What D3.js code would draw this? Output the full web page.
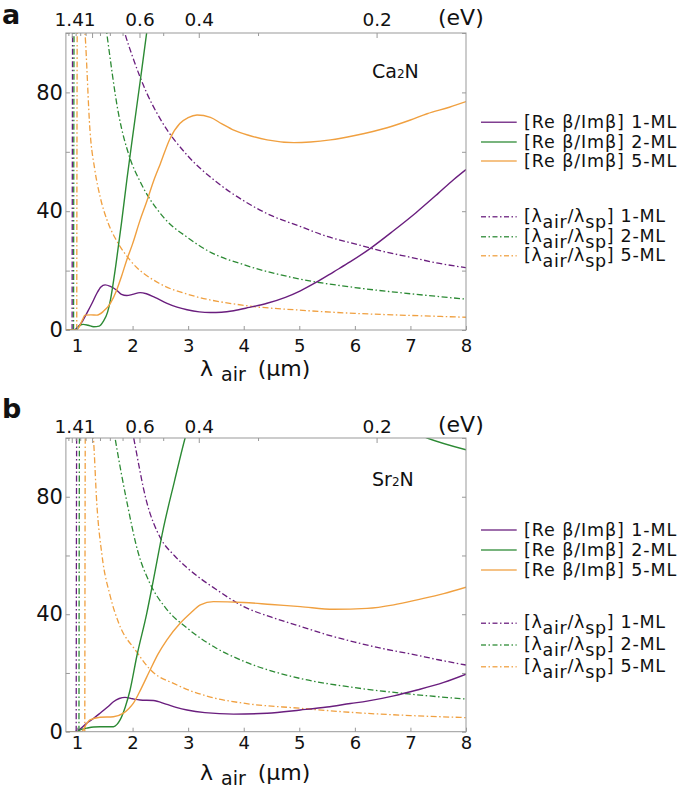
<!DOCTYPE html>
<html><head><meta charset="utf-8">
<script src="https://cdn.jsdelivr.net/npm/d3@7"></script>
<style>body{margin:0;background:#fff}svg{display:block}text{font-family:"DejaVu Sans",Verdana,sans-serif;fill:#111}</style>
</head><body>
<script>
// ---------- data ----------
const xTicks = [1, 2, 3, 4, 5, 6, 7, 8];
const yTicks = [0, 20, 40, 60, 80, 100];
const yTickLabels = [0, 40, 80];
const evMajor = [1.4, 1, 0.6, 0.4, 0.2];
const evMinor = [1.5, 1.3, 1.2, 1.1, 0.9, 0.8, 0.7, 0.5, 0.3];
const evToUm = 1.28;
const seriesNames = ["1-ML", "2-ML", "5-ML"];

// Ca2N (panel a)
const caRe1 = [[0.8,0],[0.95,0],[1.0,0.7],[1.1,3],[1.175,5.6],[1.27,9],[1.355,12.3],[1.43,14.5],[1.505,15.2],[1.6,14.7],[1.715,13.4],[1.8,12],[1.895,11.6],[2.0,12],[2.135,12.6],[2.25,12.2],[2.4,11],[2.62,9],[2.8,7.7],[2.98,6.8],[3.2,6.1],[3.4,5.9],[3.6,6],[3.82,6.5],[4.1,7.6],[4.42,9],[4.75,11],[5.02,13.2],[5.3,16],[5.62,19.6],[5.92,23],[6.28,27.5],[6.7,33.5],[7.1,39.5],[7.5,46],[7.77,50.5],[8,54]];
const caRe2 = [[0.8,0],[0.97,0],[1.05,1.5],[1.11,1.9],[1.2,1.6],[1.3,1.1],[1.4,1.3],[1.47,2.8],[1.55,6],[1.6,10],[1.7,22],[1.8,36],[1.9,51],[2.0,65],[2.135,83.5],[2.26,101],[2.3,107]];
const caRe5 = [[0.8,0],[0.99,0],[1.05,1.5],[1.1,3.5],[1.144,5],[1.25,5.1],[1.355,5],[1.47,6.2],[1.6,9],[1.715,13.5],[1.8,18],[1.895,23.6],[2.0,29],[2.135,37],[2.25,43],[2.375,50],[2.5,56],[2.675,64.5],[2.85,69.5],[3.0,71.5],[3.16,72.4],[3.4,71.6],[3.6,69.5],[3.82,67.3],[4.1,65.5],[4.42,64],[4.9,63.1],[5.2,63.3],[5.56,64],[6.0,65.5],[6.58,68.1],[7.0,70.7],[7.3,72.8],[7.7,75],[8,76.9]];
const caSp1 = [[0.912,0],[0.922,105],[1.7,112],[1.86,100],[2,92],[2.25,80],[2.5,71],[3,58.5],[3.5,50],[4,43.5],[4.5,38.5],[5,35],[5.5,31.5],[6,29],[6.5,26.5],[7,24.5],[7.5,22.5],[8,21]];
const caSp2 = [[0.938,0],[0.948,105],[1.45,112],[1.535,100],[1.745,73],[1.95,58],[2.135,50],[2.555,38],[3,31],[3.37,26.5],[4,22],[5,17.2],[6,14.3],[7,12.2],[8,10.4]];
const caSp5 = [[0.995,0],[1.005,105],[1.1,110],[1.144,100],[1.234,67],[1.32,54],[1.414,45],[1.55,36.5],[1.715,30],[1.955,23.5],[2.5,15.5],[3,12],[4,8.3],[5,6.7],[6,5.6],[7,4.9],[8,4.3]];

// Sr2N (panel b)
const srRe1 = [[0.8,0],[0.96,0],[1.05,0.8],[1.175,2.9],[1.3,4.6],[1.414,6.3],[1.55,8.4],[1.655,10.2],[1.76,11.3],[1.865,11.7],[2.0,11.2],[2.135,10.8],[2.375,10.6],[2.6,9.4],[2.8,8.2],[2.98,7.4],[3.3,6.5],[3.82,6],[4.42,6.3],[5.02,7.4],[5.5,8.4],[5.92,9.6],[6.22,10.4],[6.7,12.2],[7.12,14.2],[7.6,16.8],[8,19.6]];
const srRe2 = [[0.8,0],[0.99,0],[1.08,0.8],[1.175,1.2],[1.3,1.6],[1.414,1.7],[1.655,1.7],[1.72,2.5],[1.775,4],[1.87,8.5],[1.955,14.2],[2.075,25.6],[2.255,40.3],[2.375,51.7],[2.555,69.3],[2.75,85],[2.945,100],[3.5,128],[4.5,140],[5.5,118],[6.5,107],[7.3,100],[8,96]];
const srRe5 = [[0.8,0],[1.085,0],[1.15,2],[1.234,4],[1.414,4.9],[1.655,5.1],[1.835,6.3],[1.93,7.8],[2.015,9.7],[2.15,14.5],[2.315,21],[2.46,26.5],[2.615,31.2],[2.855,36.9],[3.05,40.5],[3.22,43.2],[3.455,44.3],[4.0,44],[4.5,43.3],[5.02,42.6],[5.62,41.7],[6.22,42],[6.7,43.2],[7.12,44.9],[7.6,47],[8,49.2]];
const srSp1 = [[0.985,0],[0.995,105],[1.9,112],[2.02,100],[2.25,78.5],[2.5,66],[2.75,60],[3,55.5],[3.5,48.5],[4,42.6],[4.5,39],[5,36],[5.5,33],[6,30.5],[6.5,28.3],[7,26.5],[7.5,24.5],[8,22.7]];
const srSp2 = [[1.035,0],[1.045,105],[1.6,110],[1.685,100],[1.9,78],[2.1,61],[2.3,51],[2.6,42],[3,35],[3.5,28.5],[4,24],[5,18.2],[6,15],[7,12.8],[8,11.1]];
const srSp5 = [[1.14,0],[1.15,105],[1.25,108],[1.295,100],[1.355,78],[1.45,60],[1.6,46],[1.75,37],[2.07,27.3],[2.3,21.5],[2.8,15.9],[3.4,11.8],[4,9.7],[5,8],[6,6.5],[7,5.5],[8,4.8]];

// ---------- drawing ----------
const colors = ["#6a1e7e", "#2c8a34", "#f0a040"];
const dashDot = "6,2.5,1.5,2.5";
const W = 685, H = 790;
const svg = d3.select("body").append("svg").attr("width", W).attr("height", H);
svg.append("rect").attr("width", W).attr("height", H).attr("fill", "#fff");

function drawPanel(o) {
  const x = d3.scaleLinear().domain([0.8, 8]).range([65.9, 466]);
  const y = d3.scaleLinear().domain([0, 100]).range([o.y0, o.y100]);
  const g = svg.append("g");
  const clipId = "clip" + o.id;
  svg.append("clipPath").attr("id", clipId).append("rect")
    .attr("x", x(0.8)).attr("y", y(100)).attr("width", x(8) - x(0.8)).attr("height", y(0) - y(100));

  const line = d3.line().x(d => x(d[0])).y(d => y(d[1])).curve(d3.curveMonotoneX);
  const plot = g.append("g").attr("clip-path", `url(#${clipId})`);
  o.sp.forEach((s, i) => plot.append("path").attr("d", line(s)).attr("fill", "none")
    .attr("stroke", colors[i]).attr("stroke-width", 1.3).attr("stroke-dasharray", dashDot));
  o.re.forEach((s, i) => plot.append("path").attr("d", line(s)).attr("fill", "none")
    .attr("stroke", colors[i]).attr("stroke-width", 1.4));

  // frame
  g.append("rect").attr("x", x(0.8)).attr("y", y(100)).attr("width", x(8) - x(0.8)).attr("height", y(0) - y(100))
    .attr("fill", "none").attr("stroke", "#999").attr("stroke-width", 1);

  const tickColor = "#999";
  // bottom ticks
  const ax = g.append("g").attr("transform", `translate(0,${y(0)})`)
    .call(d3.axisBottom(x).tickValues(xTicks).tickSizeInner(-4).tickSizeOuter(0).tickPadding(o.xPad).tickFormat(d3.format("d")));
  ax.select(".domain").remove();
  ax.selectAll("line").attr("stroke", tickColor);
  ax.selectAll("text").attr("font-size", 18).attr("fill", "#111").style("font-family", '"DejaVu Sans",sans-serif');
  // left ticks
  const ay = g.append("g").attr("transform", `translate(${x(0.8)},0)`)
    .call(d3.axisLeft(y).tickValues(yTicks).tickSizeInner(-4).tickSizeOuter(0).tickPadding(3)
      .tickFormat(d => yTickLabels.includes(d) ? d : ""));
  ay.select(".domain").remove();
  ay.selectAll("line").attr("stroke", tickColor);
  ay.selectAll("text").attr("font-size", 21).attr("fill", "#111").style("font-family", '"DejaVu Sans",sans-serif');
  // right ticks
  const ar = g.append("g").attr("transform", `translate(${x(8)},0)`)
    .call(d3.axisRight(y).tickValues(yTicks).tickSizeInner(-4).tickSizeOuter(0).tickFormat(""));
  ar.select(".domain").remove();
  ar.selectAll("line").attr("stroke", tickColor);
  // top eV ticks
  const topG = g.append("g");
  evMinor.forEach(e => topG.append("line").attr("x1", x(evToUm / e)).attr("x2", x(evToUm / e))
    .attr("y1", y(100)).attr("y2", y(100) + 3).attr("stroke", tickColor));
  evMajor.forEach(e => {
    topG.append("line").attr("x1", x(evToUm / e)).attr("x2", x(evToUm / e))
      .attr("y1", y(100)).attr("y2", y(100) + 5).attr("stroke", tickColor);
    topG.append("text").attr("x", x(evToUm / e) - (e >= 1 ? 3 : 0)).attr("y", y(100) - o.topPad)
      .attr("text-anchor", "middle").attr("font-size", 18.5).text(e);
  });
  g.append("text").attr("x", 438).attr("y", y(100) - o.topPad - 1).attr("font-size", 22).text("(eV)");

  // x title
  const xt = g.append("text").attr("x", 200).attr("y", o.titleY).attr("font-size", 22);
  xt.append("tspan").text("λ");
  xt.append("tspan").attr("dx", 8).attr("dy", 5).attr("font-size", 19).text("air");
  xt.append("tspan").attr("dx", 12).attr("dy", -5).text("(μm)");

  // panel letter
  g.append("text").attr("x", 2).attr("y", o.letterY).attr("font-size", 27).attr("font-weight", "bold").text(o.letter);

  // material label
  const ml = g.append("text").attr("x", 372).attr("y", o.matY).attr("font-size", 19);
  ml.append("tspan").text(o.mat[0]);
  ml.append("tspan").attr("font-size", 12).text(o.mat[1]);
  ml.append("tspan").text(o.mat[2]);

  // legends
  const lx0 = 481, lx1 = 516.7, tx = 524;
  seriesNames.forEach((n, i) => {
    const yy = o.leg1[i];
    g.append("line").attr("x1", lx0).attr("x2", lx1).attr("y1", yy).attr("y2", yy)
      .attr("stroke", colors[i]).attr("stroke-width", 1.4).attr("opacity", 0.85);
    g.append("text").attr("x", tx).attr("y", yy + 6).attr("font-size", 17.5).attr("letter-spacing", 0.9)
      .text("[Re β/Imβ] " + n);
  });
  seriesNames.forEach((n, i) => {
    const yy = o.leg2[i];
    g.append("line").attr("x1", lx0).attr("x2", lx1).attr("y1", yy).attr("y2", yy)
      .attr("stroke", colors[i]).attr("stroke-width", 1.4).attr("opacity", 0.85).attr("stroke-dasharray", "5,2.5,1.5,2.5");
    const t = g.append("text").attr("x", tx).attr("y", yy + 5).attr("font-size", 17.5).attr("letter-spacing", 0.7);
    t.append("tspan").text("[λ");
    t.append("tspan").attr("dy", 6).text("air");
    t.append("tspan").attr("dy", -6).text("/λ");
    t.append("tspan").attr("dy", 6).text("sp");
    t.append("tspan").attr("dy", -6).text("] " + n);
  });
}

drawPanel({id: "a", y0: 330, y100: 33, re: [caRe1, caRe2, caRe5], sp: [caSp1, caSp2, caSp5],
  letter: "a", letterY: 24, mat: ["Ca", "2", "N"], matY: 78, xPad: 9, topPad: 7, titleY: 376,
  leg1: [122.3, 142, 161], leg2: [216.7, 236.7, 255.7]});
drawPanel({id: "b", y0: 731.7, y100: 438, re: [srRe1, srRe2, srRe5], sp: [srSp1, srSp2, srSp5],
  letter: "b", letterY: 418, mat: ["Sr", "2", "N"], matY: 486, xPad: 5, topPad: 5, titleY: 780,
  leg1: [530, 550, 570], leg2: [623.3, 645, 666.7]});
</script>
</body></html>
